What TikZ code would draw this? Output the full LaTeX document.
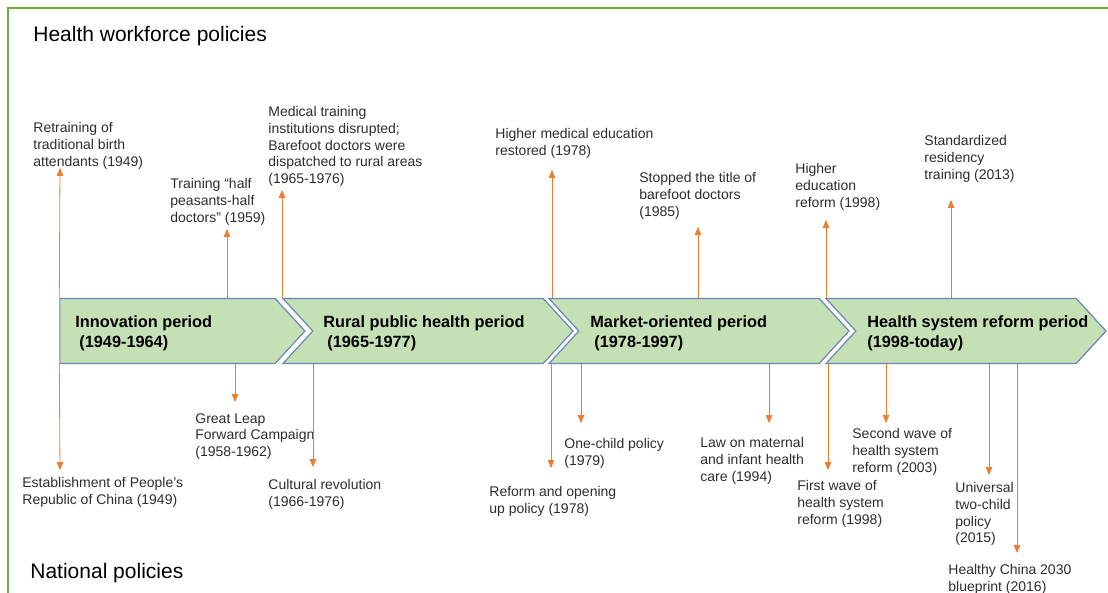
\documentclass[tikz,border=0pt]{standalone}
\usepackage{fontspec}
\setmainfont{Liberation Sans}
\usepackage{tikz}
\usetikzlibrary{arrows,shapes}
\definecolor{mygreen}{RGB}{197,224,180}
\definecolor{myblue}{RGB}{105,135,185}
\definecolor{myorange}{RGB}{237,125,49}
\definecolor{myframe}{RGB}{112,173,71}
\definecolor{mytext}{RGB}{45,45,45}

\begin{document}
\begin{tikzpicture}[x=1pt,y=-1pt,>=triangle 45,line width=0.8pt]
 \tikzstyle{period}=[signal,signal to=east,signal pointer angle=95,draw=myblue,fill=mygreen,line width=1.2pt,minimum height=65pt,inner sep=0pt]
 \tikzstyle{ptext}=[anchor=west,align=left,inner sep=0pt,font=\fontsize{16.3}{20}\selectfont\bfseries]
 \tikzstyle{event}=[anchor=north west,align=left,inner sep=0pt,text=mytext,font=\fontsize{14}{16.8}\selectfont]
 \tikzstyle{heading}=[anchor=west,inner sep=0pt,font=\fontsize{21}{25}\selectfont]

 \useasboundingbox (0,0) rectangle (1108,593);
 \draw[myframe,line width=1.5pt] (8,593) -- (8,8) -- (1108,8);

 \node[heading] (hw) at (33,36) {Health workforce policies};
 \node[heading] (np) at (30,573) {National policies};

 % periods
 \node[period,minimum width=245pt] (c1) at (167.5,331) {};
 \node[period,signal from=west,minimum width=290pt] (c2) at (428,331) {};
 \node[period,signal from=west,minimum width=300pt] (c3) at (699,331) {};
 \node[period,signal from=west,minimum width=280pt] (c4) at (966,331) {};
 \node[ptext] (p1) at (75,333) {Innovation period\\\hspace*{4pt}(1949-1964)};
 \node[ptext] (p2) at (323,333) {Rural public health period\\\hspace*{4pt}(1965-1977)};
 \node[ptext] (p3) at (590,333) {Market-oriented period\\\hspace*{4pt}(1978-1997)};
 \node[ptext] (p4) at (867,333) {Health system reform period\\(1998-today)};

 % health workforce policies
 \node[event] (a1) at (33,122) {Retraining of\\traditional birth\\attendants (1949)};
 \node[event] (a2) at (170,178) {Training “half\\peasants-half\\doctors” (1959)};
 \node[event] (a3) at (268,106) {Medical training\\institutions disrupted;\\Barefoot doctors were\\dispatched to rural areas\\(1965-1976)};
 \node[event] (a4) at (495,128) {Higher medical education\\restored (1978)};
 \node[event] (a5) at (639,172) {Stopped the title of\\barefoot doctors\\(1985)};
 \node[event] (a6) at (795,163) {Higher\\education\\reform (1998)};
 \node[event] (a7) at (924,135) {Standardized\\residency\\training (2013)};

 % national policies
 \node[event] (d1) at (22,477) {Establishment of People’s\\Republic of China (1949)};
 \node[event] (d2) at (195,413) {Great Leap\\Forward Campaign\\(1958-1962)};
 \node[event] (d3) at (268,479) {Cultural revolution\\(1966-1976)};
 \node[event] (d4) at (489,486) {Reform and opening\\up policy (1978)};
 \node[event] (d5) at (564,438) {One-child policy\\(1979)};
 \node[event] (d6) at (700,437) {Law on maternal\\and infant health\\care (1994)};
 \node[event] (d7) at (797,480) {First wave of\\health system\\reform (1998)};
 \node[event] (d8) at (852,428) {Second wave of\\health system\\reform (2003)};
 \node[event] (d9) at (955,482) {Universal\\two-child\\policy\\(2015)};
 \node[event] (d10) at (948,564) {Healthy China 2030\\blueprint (2016)};

 \coordinate (ua2) at (227,298); \coordinate (ta2) at (227,229);
 \coordinate (ua3) at (282,298); \coordinate (ta3) at (282,190);
 \coordinate (ua4) at (552,298); \coordinate (ta4) at (552,170);
 \coordinate (ua5) at (698,298); \coordinate (ta5) at (698,227);
 \coordinate (ua6) at (826,298); \coordinate (ta6) at (826,220);
 \coordinate (ua7) at (951,298); \coordinate (ta7) at (951,200);
 \coordinate (ta1) at (60,168);

 \coordinate (ud2) at (235,364); \coordinate (td2) at (235,402);
 \coordinate (ud3) at (313,364); \coordinate (td3) at (313,467);
 \coordinate (ud4) at (551,364); \coordinate (td4) at (551,468);
 \coordinate (ud5) at (581,364); \coordinate (td5) at (581,423);
 \coordinate (ud6) at (769,364); \coordinate (td6) at (769,423);
 \coordinate (ud7) at (828,364); \coordinate (td7) at (828,470);
 \coordinate (ud8) at (886,364); \coordinate (td8) at (886,423);
 \coordinate (ud9) at (989,364); \coordinate (td9) at (989,475);
 \coordinate (ud10) at (1017,364); \coordinate (td10) at (1017,553);
 \coordinate (td1) at (60,470);

 \path[->,myorange]
 (c1.north west) edge (ta1)
 (ua2) edge (ta2)
 (ua3) edge (ta3)
 (ua4) edge (ta4)
 (ua5) edge (ta5)
 (ua6) edge (ta6)
 (ua7) edge (ta7)
 (c1.south west) edge (td1)
 (ud2) edge (td2)
 (ud3) edge (td3)
 (ud4) edge (td4)
 (ud5) edge (td5)
 (ud6) edge (td6)
 (ud7) edge (td7)
 (ud8) edge (td8)
 (ud9) edge (td9)
 (ud10) edge (td10);

\end{tikzpicture}
\end{document}
